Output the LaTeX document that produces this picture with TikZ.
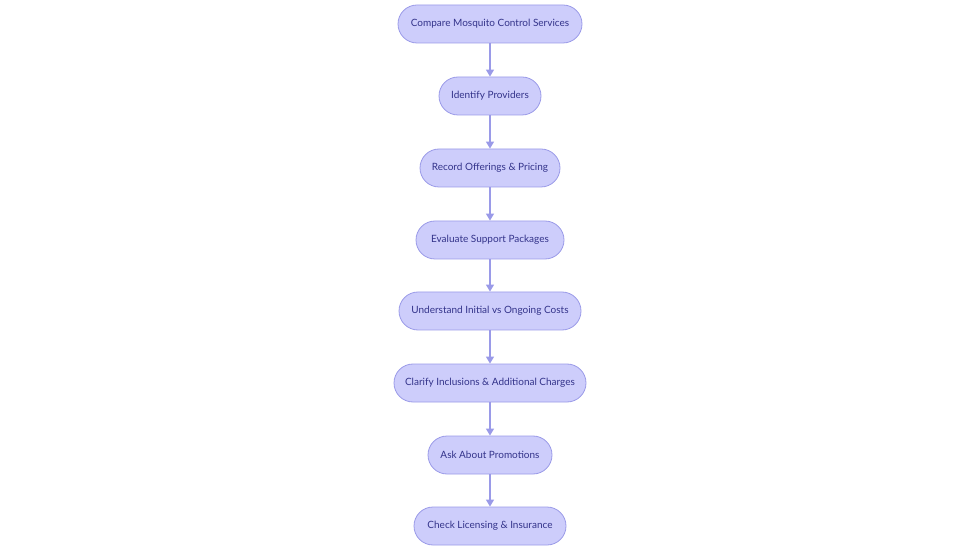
\documentclass[tikz,border=0pt]{standalone}
\usepackage{fontspec}
\setmainfont{Lato}
\usetikzlibrary{arrows.meta}
\definecolor{boxfill}{HTML}{CDCDFB}
\definecolor{boxline}{HTML}{9A9AE8}
\definecolor{boxtext}{HTML}{33338A}
\definecolor{arrowc}{HTML}{9A9AE8}
\tikzset{
  stepbox/.style={draw=boxline, fill=boxfill, rounded corners=19pt, line width=0.8pt,
    minimum height=38pt, inner sep=0pt, text=boxtext, font=\fontsize{10}{12}\selectfont},
  flow/.style={draw=arrowc, line width=1.2pt, -{Triangle[length=7pt,width=8pt]}}
}
\begin{document}
\begin{tikzpicture}[x=1pt,y=-1pt]
\useasboundingbox (0,0) rectangle (980,553);
\node[stepbox, minimum width=184pt] (n1) at (490,24) {Compare Mosquito Control Services};
\node[stepbox, minimum width=102pt] (n2) at (490,96) {Identify Providers};
\node[stepbox, minimum width=140pt] (n3) at (490,168) {Record Offerings \& Pricing};
\node[stepbox, minimum width=148pt] (n4) at (490,240) {Evaluate Support Packages};
\node[stepbox, minimum width=182pt] (n5) at (490,311) {Understand Initial vs Ongoing Costs};
\node[stepbox, minimum width=192pt] (n6) at (490,383) {Clarify Inclusions \& Additional Charges};
\node[stepbox, minimum width=124pt] (n7) at (490,455) {Ask About Promotions};
\node[stepbox, minimum width=152pt] (n8) at (490,526) {Check Licensing \& Insurance};
\foreach \a/\b in {n1/n2,n2/n3,n3/n4,n4/n5,n5/n6,n6/n7,n7/n8}
  \draw[flow] (\a) -- (\b);
\end{tikzpicture}
\end{document}
